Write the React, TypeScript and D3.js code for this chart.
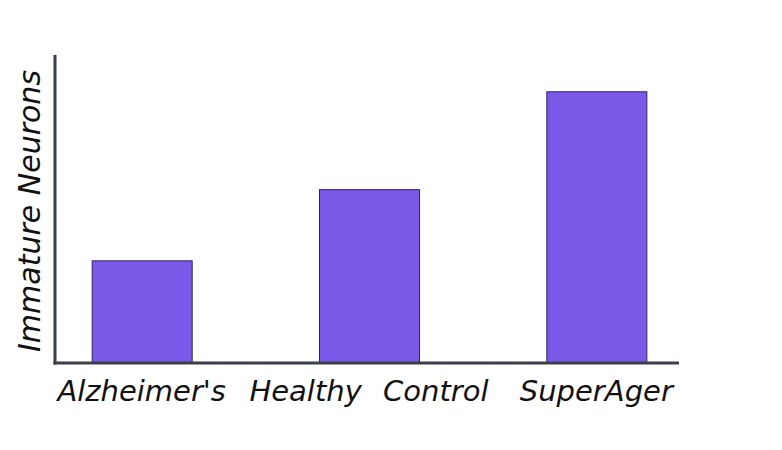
import { useEffect, useRef } from 'react';
import * as d3 from 'd3';

const categories = ["Alzheimer's", 'Healthy Control', 'SuperAger'];
const values = [3, 5.08, 7.94];
const yLabel = 'Immature Neurons';

const W = 782;
const H = 450;

const App = () => {
  const ref = useRef<SVGSVGElement>(null);

  useEffect(() => {
    document.body.style.margin = '0';
    if (!ref.current) return;
    const svg = d3.select(ref.current);
    svg.selectAll('*').remove();

    const font = "'DejaVu Sans', sans-serif";
    const axisColor = '#3a3f4b';

    // x: bands, y: linear from baseline
    const x = d3.scaleBand<string>()
      .domain(categories)
      .range([28, 710])
      .paddingInner(0.56)
      .paddingOuter(0.28);
    const y = d3.scaleLinear()
      .domain([0, 9])
      .range([363, 55]);

    // bars
    svg.append('g')
      .selectAll('rect')
      .data(values)
      .enter()
      .append('rect')
      .attr('x', (d, i) => x(categories[i])! + 0.5)
      .attr('y', d => y(d) + 0.5)
      .attr('width', x.bandwidth())
      .attr('height', d => y(0) - y(d))
      .style('fill', '#7b59e9')
      .style('stroke', '#2e2266')
      .style('stroke-width', 1);

    // axes (no ticks)
    svg.append('line')
      .attr('x1', 55).attr('x2', 55)
      .attr('y1', y.range()[1]).attr('y2', y(0) + 1.5)
      .style('stroke', axisColor)
      .style('stroke-width', 3);
    svg.append('line')
      .attr('x1', 53.5).attr('x2', 679)
      .attr('y1', y(0)).attr('y2', y(0))
      .style('stroke', axisColor)
      .style('stroke-width', 3);

    // category labels
    svg.append('g')
      .selectAll('text')
      .data(categories)
      .enter()
      .append('text')
      .attr('x', d => x(d)! + x.bandwidth() / 2)
      .attr('y', 401)
      .attr('text-anchor', 'middle')
      .style('font-family', font)
      .style('font-style', 'italic')
      .style('font-size', '29px')
      .style('word-spacing', '12px')
      .style('fill', '#111')
      .text(d => d);

    // y label
    svg.append('text')
      .attr('transform', `translate(40, 211) rotate(-90)`)
      .attr('text-anchor', 'middle')
      .style('font-family', font)
      .style('font-style', 'italic')
      .style('font-size', '30px')
      .style('fill', '#111')
      .text(yLabel);
  }, []);

  return <svg ref={ref} width={W} height={H} style={{ display: 'block', background: '#fff' }} />;
};

export default App;
